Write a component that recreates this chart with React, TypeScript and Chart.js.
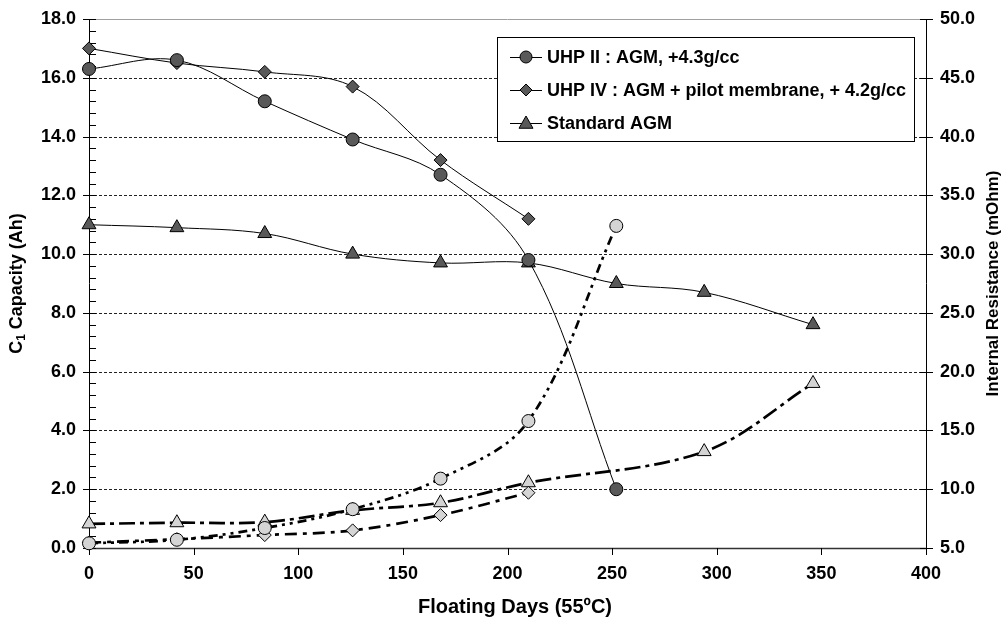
import React, { useEffect, useRef } from "react";
import { Chart, registerables } from "chart.js";

Chart.register(...registerables);

// ---- data ----
const daysUhp2 = [0, 42, 84, 126, 168, 210, 252];
const daysUhp4 = [0, 42, 84, 126, 168, 210];
const daysStd = [0, 42, 84, 126, 168, 210, 252, 294, 346];
const daysStdRes = [0, 42, 84, 126, 168, 210, 294, 346];

const capUhp2 = [16.3, 16.6, 15.2, 13.9, 12.7, 9.8, 2.0];
const capUhp4 = [17.0, 16.5, 16.2, 15.7, 13.2, 11.2];
const capStd = [11.0, 10.9, 10.7, 10.0, 9.7, 9.7, 9.0, 8.7, 7.6];

const resUhp2 = [5.4, 5.7, 6.7, 8.3, 10.9, 15.8, 32.4];
const resUhp4 = [5.45, 5.75, 6.1, 6.5, 7.8, 9.7];
const resStd = [7.05, 7.15, 7.2, 8.2, 8.85, 10.55, 13.2, 19.0];

const legendLabels = [
  "UHP II : AGM, +4.3g/cc",
  "UHP IV : AGM + pilot membrane, + 4.2g/cc",
  "Standard AGM",
];
const legendMarkers = ["circle", "diamond", "triangle"];

const xTitle = "Floating Days (55ºC)";
const yTitleMain = " Capacity (Ah)";
const y2Title = "Internal Resistance (mOhm)";

const FONT = "'Liberation Sans', Arial, sans-serif";
const DARK = "#595959";
const LIGHT = "#d4d4d4";

const pts = (xs: number[], ys: number[]) => xs.map((x, i) => ({ x, y: ys[i] }));

function drawMarker(ctx: CanvasRenderingContext2D, kind: string, x: number, y: number, r: number, fill: string) {
  ctx.save();
  ctx.beginPath();
  if (kind === "circle") {
    ctx.arc(x, y, r, 0, Math.PI * 2);
  } else if (kind === "diamond") {
    ctx.moveTo(x, y - r);
    ctx.lineTo(x + r, y);
    ctx.lineTo(x, y + r);
    ctx.lineTo(x - r, y);
    ctx.closePath();
  } else {
    ctx.moveTo(x, y - r);
    ctx.lineTo(x + r, y + r * 0.75);
    ctx.lineTo(x - r, y + r * 0.75);
    ctx.closePath();
  }
  ctx.fillStyle = fill;
  ctx.fill();
  ctx.lineWidth = 1;
  ctx.strokeStyle = "#000";
  ctx.setLineDash([]);
  ctx.stroke();
  ctx.restore();
}

const framePlugin = {
  id: "frame",
  beforeDatasetsDraw(chart: any) {
    const { ctx, chartArea: a, scales } = chart;
    const y = scales.y;
    const x = scales.x;
    ctx.save();
    // dashed gridlines
    ctx.strokeStyle = "#222";
    ctx.lineWidth = 1;
    ctx.setLineDash([3, 2]);
    for (let v = 2; v <= 16; v += 2) {
      const py = Math.round(y.getPixelForValue(v)) + 0.5;
      ctx.beginPath();
      ctx.moveTo(a.left, py);
      ctx.lineTo(a.right, py);
      ctx.stroke();
    }
    ctx.setLineDash([]);
    // top border
    ctx.strokeStyle = "#a0a0a0";
    ctx.beginPath();
    ctx.moveTo(a.left, a.top + 0.5);
    ctx.lineTo(a.right, a.top + 0.5);
    ctx.stroke();
    // axes
    ctx.strokeStyle = "#000";
    ctx.beginPath();
    ctx.moveTo(a.left + 0.5, a.top);
    ctx.lineTo(a.left + 0.5, a.bottom);
    ctx.moveTo(a.right + 0.5, a.top);
    ctx.lineTo(a.right + 0.5, a.bottom);
    ctx.stroke();
    ctx.strokeStyle = "#333";
    ctx.lineWidth = 1.5;
    ctx.beginPath();
    ctx.moveTo(a.left, a.bottom + 0.5);
    ctx.lineTo(a.right + 1, a.bottom + 0.5);
    ctx.stroke();
    ctx.lineWidth = 1;
    ctx.strokeStyle = "#000";
    // left ticks
    ctx.beginPath();
    for (let i = 0; i <= 45; i++) {
      const v = i * 0.4;
      const py = Math.round(y.getPixelForValue(v)) + 0.5;
      if (i % 5 === 0) {
        ctx.moveTo(a.left - 6, py);
        ctx.lineTo(a.left + 7, py);
      } else {
        ctx.moveTo(a.left, py);
        ctx.lineTo(a.left + 7, py);
      }
    }
    // right ticks
    const y2 = scales.y2;
    for (let v = 5; v <= 50; v += 5) {
      const py = Math.round(y2.getPixelForValue(v)) + 0.5;
      ctx.moveTo(a.right - 6, py);
      ctx.lineTo(a.right + 7, py);
    }
    // x ticks
    for (let v = 0; v <= 400; v += 50) {
      const px = Math.round(x.getPixelForValue(v)) + 0.5;
      ctx.moveTo(px, a.bottom);
      ctx.lineTo(px, a.bottom + 7);
    }
    ctx.stroke();
    ctx.restore();
  },
  afterDraw(chart: any) {
    const { ctx, chartArea: a } = chart;
    ctx.save();
    ctx.fillStyle = "#000";
    ctx.textBaseline = "middle";
    // x title
    ctx.font = `bold 20px ${FONT}`;
    ctx.textAlign = "center";
    ctx.fillText(xTitle, 515, 607);
    // left title with subscript
    const cy = (a.top + a.bottom) / 2;
    ctx.save();
    ctx.translate(17, cy);
    ctx.rotate(-Math.PI / 2);
    ctx.font = `bold 18px ${FONT}`;
    const wC = ctx.measureText("C").width;
    const wRest = ctx.measureText(yTitleMain).width;
    ctx.font = `bold 12px ${FONT}`;
    const w1 = ctx.measureText("1").width;
    const total = wC + w1 + wRest;
    let sx = -total / 2;
    ctx.textAlign = "left";
    ctx.font = `bold 18px ${FONT}`;
    ctx.fillText("C", sx, 0);
    sx += wC;
    ctx.font = `bold 12px ${FONT}`;
    ctx.fillText("1", sx, 5);
    sx += w1;
    ctx.font = `bold 18px ${FONT}`;
    ctx.fillText(yTitleMain, sx, 0);
    ctx.restore();
    // right title
    ctx.save();
    ctx.translate(993, cy);
    ctx.rotate(-Math.PI / 2);
    ctx.font = `bold 17px ${FONT}`;
    ctx.textAlign = "center";
    ctx.fillText(y2Title, 0, 0);
    ctx.restore();
    // legend
    const lx = 497, ly = 37, lw = 417, lh = 104;
    ctx.fillStyle = "#fff";
    ctx.fillRect(lx, ly, lw, lh);
    ctx.strokeStyle = "#000";
    ctx.lineWidth = 1;
    ctx.strokeRect(lx + 0.5, ly + 0.5, lw, lh);
    legendLabels.forEach((lab, i) => {
      const ry = 57 + i * 33;
      ctx.strokeStyle = "#000";
      ctx.lineWidth = 1;
      ctx.beginPath();
      ctx.moveTo(510, ry + 0.5);
      ctx.lineTo(542, ry + 0.5);
      ctx.stroke();
      drawMarker(ctx, legendMarkers[i], 526, ry, legendMarkers[i] === "triangle" ? 7 : 6, DARK);
      ctx.fillStyle = "#000";
      ctx.font = `bold 18px ${FONT}`;
      ctx.textAlign = "left";
      ctx.textBaseline = "middle";
      ctx.fillText(lab, 547, ry + 1);
    });
    ctx.restore();
  },
};

const capStyle = (style: string, r: number) => ({
  yAxisID: "y",
  borderColor: "#000",
  borderWidth: 1,
  pointStyle: style,
  pointRadius: r,
  pointBackgroundColor: DARK,
  pointBorderColor: "#000",
  pointBorderWidth: 1,
  tension: 0.35,
  fill: false,
  clip: false,
});

const resStyle = (style: string, r: number, dash: number[]) => ({
  yAxisID: "y2",
  borderColor: "#000",
  borderWidth: 2.7,
  borderDash: dash,
  pointStyle: style,
  pointRadius: r,
  pointBackgroundColor: LIGHT,
  pointBorderColor: "#000",
  pointBorderWidth: 1,
  tension: 0.35,
  fill: false,
  clip: false,
});

const tickFont = { family: FONT, size: 18, weight: "bold" as const };

export default function App() {
  const ref = useRef<HTMLCanvasElement>(null);
  useEffect(() => {
    const chart = new Chart(ref.current as HTMLCanvasElement, {
      type: "line",
      data: {
        datasets: [
          { label: legendLabels[0], data: pts(daysUhp2, capUhp2), ...capStyle("circle", 6.5) },
          { label: legendLabels[1], data: pts(daysUhp4, capUhp4), ...capStyle("rectRot", 6.5) },
          { label: legendLabels[2], data: pts(daysStd, capStd), ...capStyle("triangle", 8) },
          { label: "UHP II IR", data: pts(daysUhp2, resUhp2), ...resStyle("circle", 6.5, [9, 5, 3, 5, 3, 5]) },
          { label: "UHP IV IR", data: pts(daysUhp4, resUhp4), ...resStyle("rectRot", 6.5, [12, 6, 4, 6]) },
          { label: "Std IR", data: pts(daysStdRes, resStd), ...resStyle("triangle", 8, [16, 5, 4, 5]) },
        ] as any,
      },
      options: {
        animation: false,
        responsive: false,
        devicePixelRatio: 1,
        layout: { padding: { top: 19, left: 0, right: 0, bottom: 0 } },
        plugins: { legend: { display: false }, tooltip: { enabled: false } },
        scales: {
          x: {
            type: "linear",
            min: 0,
            max: 400,
            ticks: { stepSize: 50, font: tickFont, color: "#000", padding: 8 },
            grid: { display: false, drawTicks: true, tickLength: 7 },
            border: { display: false },
            afterFit: (s: any) => { s.height = 73; },
          },
          y: {
            position: "left",
            min: 0,
            max: 18,
            ticks: { stepSize: 2, font: tickFont, color: "#000", padding: 7, callback: (v: any) => Number(v).toFixed(1) },
            grid: { display: false, drawTicks: true, tickLength: 6 },
            border: { display: false },
            afterFit: (s: any) => { s.width = 89; },
          },
          y2: {
            position: "right",
            min: 5,
            max: 50,
            ticks: { stepSize: 5, font: tickFont, color: "#000", padding: 8, callback: (v: any) => Number(v).toFixed(1) },
            grid: { display: false, drawTicks: true, tickLength: 6 },
            border: { display: false },
            afterFit: (s: any) => { s.width = 79; },
          },
        },
      } as any,
      plugins: [framePlugin],
    });
    return () => chart.destroy();
  }, []);
  return (
    <div style={{ position: "absolute", left: 0, top: 0, width: 1005, height: 621, background: "#fff" }}>
      <canvas ref={ref} width={1005} height={621} style={{ display: "block" }} />
    </div>
  );
}
